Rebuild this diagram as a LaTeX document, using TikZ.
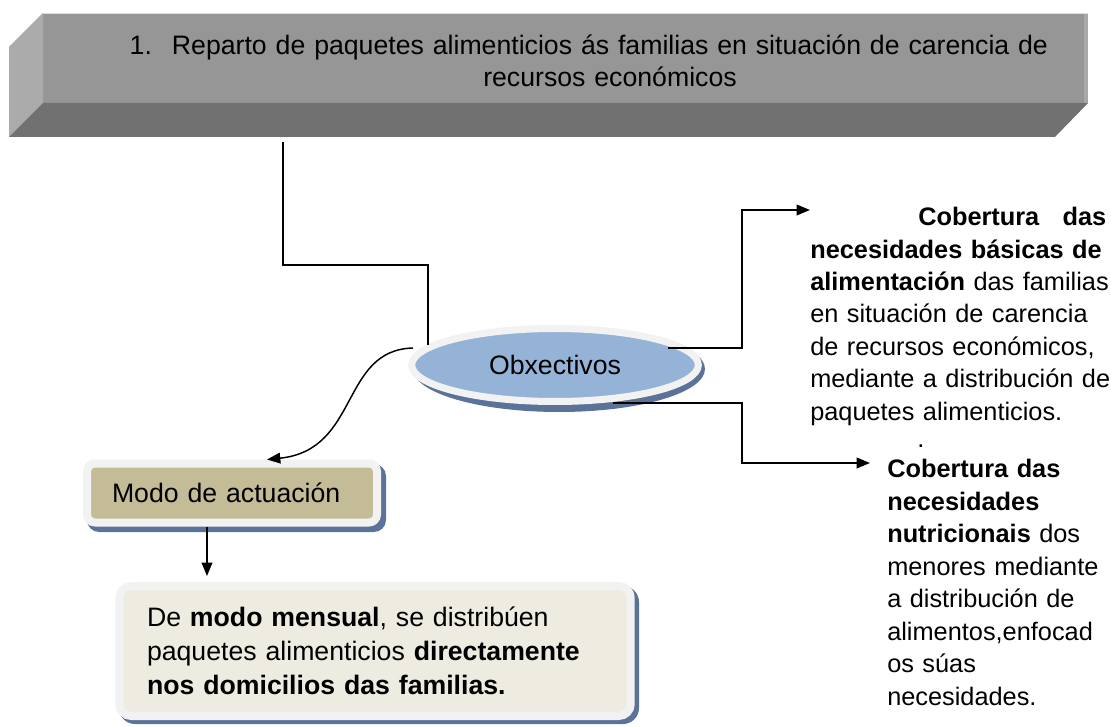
\documentclass[tikz,border=0pt]{standalone}
\usepackage{fontspec}
\setmainfont{Liberation Sans}
\usetikzlibrary{arrows.meta,calc,shapes.geometric}
\definecolor{frontgray}{HTML}{969696}
\definecolor{leftgray}{HTML}{ABABAB}
\definecolor{bottomgray}{HTML}{717171}
\definecolor{ellfill}{HTML}{95B3D7}
\definecolor{rimc}{HTML}{F2F2F2}
\definecolor{shadowc}{HTML}{5B7398}
\definecolor{khaki}{HTML}{C4BC96}
\definecolor{cream}{HTML}{EEECE1}
\newcommand\justline[1]{\makebox[222pt][s]{#1}}
\begin{document}
\begin{tikzpicture}[x=0.75pt,y=-0.75pt,
  conn/.style={line width=1.1pt},
  arr/.style={conn,-{Triangle[length=10pt,width=8pt]}},
  bigtxt/.style={font=\fontsize{20}{24}\selectfont},
  rimbox/.style={rectangle,rounded corners=6pt,draw=rimc,line width=6pt,inner sep=0pt,align=left},
  shadowfill/.style={fill=shadowc}
]
\useasboundingbox (0,0) rectangle (1111,727);
% banner
\fill[frontgray] (43,13) -- (1088,13) -- (1088,103) -- (43,103) -- cycle;
\fill[leftgray!85!frontgray] (1084,13) rectangle (1088,103);
\fill[leftgray] (43,13) -- (43,103) -- (9,137) -- (9,47) -- cycle;
\fill[bottomgray] (43,103) -- (1088,103) -- (1055,137) -- (9,137) -- cycle;
\draw[white!75!gray,line width=0.6pt] (43,13) -- (1088,13);
\node[font=\fontsize{20}{24}\selectfont,text width=720pt,align=center,inner sep=0pt] (title) at (610,61)
  {\llap{1.\hspace*{15pt}}Reparto de paquetes alimenticios ás familias en situación de carencia de\\recursos económicos};
\coordinate (bannerbot) at (283,142);
% shadows
\fill[shadowfill] (559,369) ellipse [x radius=146, y radius=43];
\fill[shadowfill,rounded corners=9pt] (87,464) rectangle (386,532);
\fill[shadowfill,rounded corners=12pt] (119,586) rectangle (639,724);
% nodes
\node[ellipse,draw=rimc,line width=5.25pt,fill=ellfill,minimum width=215pt,minimum height=54.75pt,bigtxt] (obx) at (555,365) {Obxectivos};
\node[rimbox,fill=khaki,minimum width=217.5pt,minimum height=44.25pt,text width=180pt,bigtxt] (modo) at (232,493) {Modo de actuación};
\node[rimbox,rounded corners=9pt,fill=cream,minimum width=383.6pt,minimum height=97.5pt,text width=342pt,font=\fontsize{20}{25.5}\selectfont] (desc) at (375,651)
  {De \textbf{modo mensual}, se distribúen\\paquetes alimenticios \textbf{directamente}\\\textbf{nos domicilios das familias.}};
\node[anchor=north west,inner sep=0pt,text width=222pt,align=left,font=\fontsize{19}{24.3}\selectfont] (t1) at (810,207)
  {\makebox[222pt][l]{\hspace*{81pt}\textbf{Cobertura}\hfill\textbf{das}}\\
   \justline{\textbf{necesidades básicas de}}\\
   \justline{\textbf{alimentación} das familias}\\
   \justline{en situación de carencia}\\
   \justline{de recursos económicos,}\\
   \justline{mediante a distribución de}\\
   paquetes alimenticios.};
\node[inner sep=0pt,font=\fontsize{19}{24}\selectfont] (dot) at (921,446) {.};
\node[anchor=north west,inner sep=0pt,text width=170pt,align=left,font=\fontsize{19}{24.4}\selectfont] (t2) at (887,459)
  {\textbf{Cobertura das}\\\textbf{necesidades}\\\textbf{nutricionais} dos\\menores mediante\\a distribución de\\alimentos,enfocad\\os súas\\necesidades.};
% connectors
\coordinate (k1) at (283,265);
\coordinate (k2) at (428,265);
\draw[conn] (bannerbot) -- (k1) -- (k2) -- (k2 |- obx.171);
\coordinate (k3) at (742,210);
\coordinate (k4) at (742,348);
\draw[arr] ($(obx.center)+(113,-17)$) -- (k4) -- (k3) -- (k3 -| t1.west);
\coordinate (k5) at (742,403);
\coordinate (k6) at (742,463);
\draw[arr] ($(obx.center)+(58,38)$) -- (k5) -- (k6) -- ($(k6 -| t2.west)+(-17,0)$);
\draw[arr] ($(obx.center)+(-142,-17)$) .. controls (340,350) and (360,450) .. ($(modo.north)+(35,0)$);
\draw[arr] ($(modo.south)+(-25,0)$) -- ($(desc.north)+(-168,-6)$);
\end{tikzpicture}
\end{document}
